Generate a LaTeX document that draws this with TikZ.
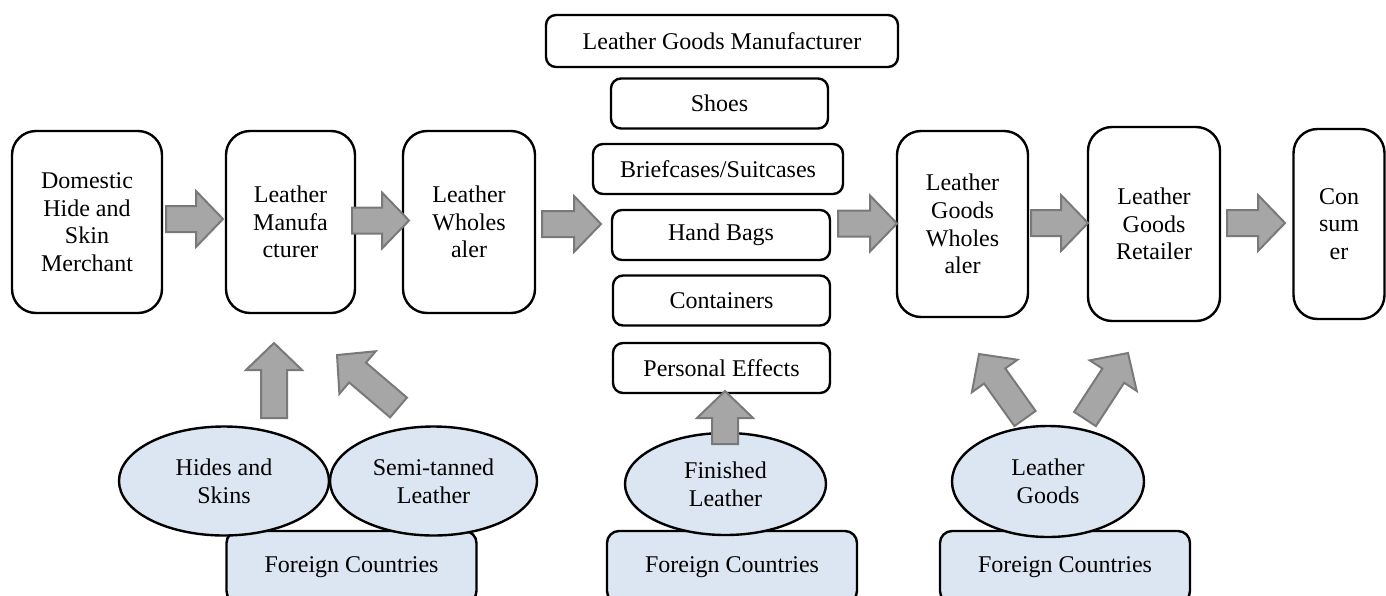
\documentclass[tikz,border=0pt]{standalone}
\usepackage{fontspec}
\setmainfont{Liberation Serif}
\usetikzlibrary{calc,shapes.geometric}
\definecolor{paleblue}{HTML}{DCE6F2}

\newcommand\fatarrow[2]{%
  \path let \p1=($(#2)-(#1)$) in
    \pgfextra{\pgfmathsetmacro\faang{atan2(\y1,\x1)}\xdef\faang{\faang}%
      \pgfmathsetmacro\falen{veclen(\x1,\y1)}\xdef\falen{\falen}};
  \draw [fat,shift={(#1)},rotate=\faang]
    (0pt,-6.5pt) -- (\falen pt-13.5pt,-6.5pt) -- (\falen pt-13.5pt,-14pt)
    -- (\falen pt,0pt) -- (\falen pt-13.5pt,14pt) -- (\falen pt-13.5pt,6.5pt)
    -- (0pt,6.5pt) -- cycle;}

\begin{document}
\begin{tikzpicture}[x=0.5pt,y=-0.5pt,
    every node/.style={font=\fontsize{12}{13.8}\selectfont, align=center, inner sep=0pt},
    bigbox/.style={draw, line width=1.2pt, rounded corners=12pt},
    item/.style={draw, line width=1.2pt, rounded corners=5pt,
      minimum height=25pt},
    source/.style={draw, ellipse, line width=1.2pt, fill=paleblue},
    origin/.style={draw, line width=1.2pt, rounded corners=6pt, fill=paleblue,
      minimum width=125pt, minimum height=36pt},
    fat/.style={fill=gray!70, draw=gray!95!black, line width=1pt}
  ]
  \useasboundingbox (0,0) rectangle (1386,595);

  \node [bigbox, minimum width=75pt, minimum height=91pt] (dom) at (87,222)
    {Domestic\\Hide and\\Skin\\Merchant};
  \node [bigbox, minimum width=64.5pt, minimum height=91pt] (lmfr) at (290.5,222)
    {Leather\\Manufa\\cturer};
  \node [bigbox, minimum width=66pt, minimum height=91pt] (lwhl) at (469,222)
    {Leather\\Wholes\\aler};

  \node [item, minimum width=176pt, minimum height=26pt] (lgm) at (722,41)
    {Leather Goods Manufacturer};
  \node [item, minimum width=108.5pt] (shoes) at (719.5,103.5) {Shoes};
  \node [item, minimum width=125pt] (brief) at (718,169) {Briefcases/Suitcases};
  \node [item, minimum width=109pt] (bags) at (721,235) {Hand Bags};
  \node [item, minimum width=108.5pt] (cont) at (721.5,300.5) {Containers};
  \node [item, minimum width=108.5pt] (pers) at (721.5,368) {Personal Effects};

  \node [bigbox, minimum width=65.5pt, minimum height=93pt] (lgw) at (962.5,224)
    {Leather\\Goods\\Wholes\\aler};
  \node [bigbox, minimum width=66pt, minimum height=97pt] (lgr) at (1154,224)
    {Leather\\Goods\\Retailer};
  \node [bigbox, minimum width=45.5pt, minimum height=95pt] (cons) at (1339,224)
    {Con\\sum\\er};

  \node [origin] (fc1) at (351.5,567) {Foreign Countries};
  \node [origin] (fc2) at (732,567) {Foreign Countries};
  \node [origin] (fc3) at (1065,567) {Foreign Countries};

  \node [source, minimum width=105pt, minimum height=54.5pt] (hides) at (224,481)
    {Hides and\\Skins};
  \node [source, minimum width=103.5pt, minimum height=54.5pt] (semi) at (433.5,481)
    {Semi-tanned\\Leather};
  \node [source, minimum width=100.5pt, minimum height=51pt] (fin) at (725.5,484)
    {Finished\\Leather};
  \node [source, minimum width=96pt, minimum height=55.5pt] (goods) at (1048,481.5)
    {Leather\\Goods};

  \coordinate (a1) at (166,219);    \coordinate (b1) at (223,219);
  \coordinate (a2) at (352,220.5);  \coordinate (b2) at (409,220.5);
  \coordinate (a3) at (542,224);    \coordinate (b3) at (601,224);
  \coordinate (a4) at (838,223.5);  \coordinate (b4) at (897,223.5);
  \coordinate (a5) at (1031,223);   \coordinate (b5) at (1088,223);
  \coordinate (a6) at (1227,223);   \coordinate (b6) at (1285,223);
  \coordinate (u1) at (274,418);    \coordinate (v1) at (274,343);
  \coordinate (u2) at (398.5,407.5);\coordinate (v2) at (337,355);
  \coordinate (u3) at (725,444);    \coordinate (v3) at (725,391);
  \coordinate (u4) at (1025,418.5); \coordinate (v4) at (979,354);
  \coordinate (u5) at (1085,419);   \coordinate (v5) at (1128,353);

  \fatarrow{a1}{b1}
  \fatarrow{a2}{b2}
  \fatarrow{a3}{b3}
  \fatarrow{a4}{b4}
  \fatarrow{a5}{b5}
  \fatarrow{a6}{b6}
  \fatarrow{u1}{v1}
  \fatarrow{u2}{v2}
  \fatarrow{u3}{v3}
  \fatarrow{u4}{v4}
  \fatarrow{u5}{v5}
\end{tikzpicture}
\end{document}
